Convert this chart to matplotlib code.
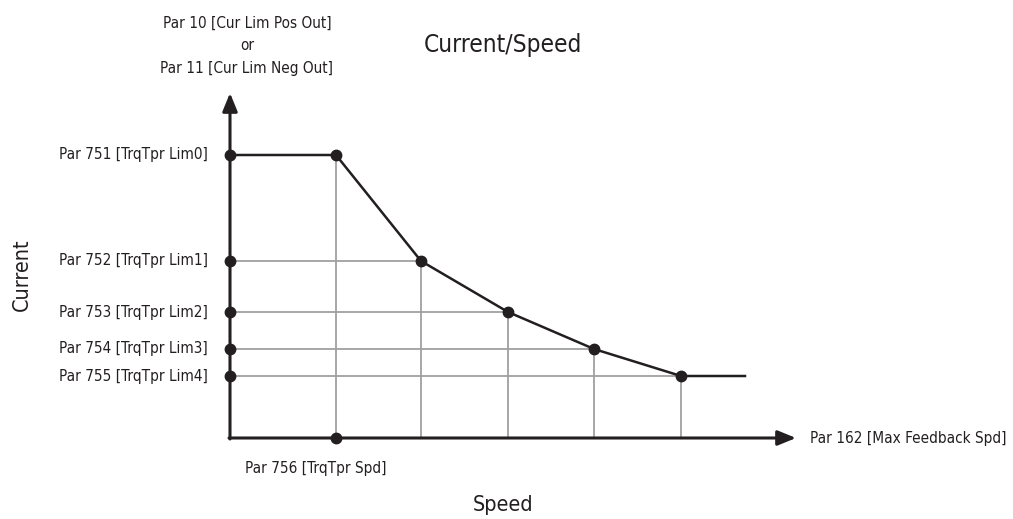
import matplotlib.pyplot as plt

plt.rcParams['font.family'] = ['DejaVu Sans']
plt.rcParams['font.stretch'] = 'condensed'

# data (arbitrary units, origin at axis crossing)
speed = [106, 191, 278, 364, 451]
current = [283, 177, 126, 89, 62]
speed_end = 515
y_labels = ['Par 751 [TrqTpr Lim0]', 'Par 752 [TrqTpr Lim1]', 'Par 753 [TrqTpr Lim2]',
            'Par 754 [TrqTpr Lim3]', 'Par 755 [TrqTpr Lim4]']
x_label_pt = 'Par 756 [TrqTpr Spd]'
x_axis_end = 'Par 162 [Max Feedback Spd]'
y_axis_top = 'Par 10 [Cur Lim Pos Out]\nor\nPar 11 [Cur Lim Neg Out]'

fig = plt.figure(figsize=(10.13, 5.19), dpi=100)
ax = fig.add_axes([0, 0, 1, 1])
ax.set_xlim(-230, 783)
ax.set_ylim(-81, 438)
ax.axis('off')

grey = '#a0a0a0'
dark = '#231f20'

# grid guides
for s, c in zip(speed, current):
    ax.plot([s, s], [0, c], color=grey, lw=1.3, zorder=1)
for s, c in zip(speed[1:], current[1:]):
    ax.plot([0, s], [c, c], color=grey, lw=1.3, zorder=1)

# curve
xs = [0] + speed + [speed_end]
ys = [current[0]] + current + [current[-1]]
ax.plot(xs, ys, color=dark, lw=1.8, zorder=2)
ax.plot(speed, current, 'o', color=dark, ms=7.5, zorder=4)
ax.plot([0] * len(current), current, 'o', color=dark, ms=7.5, zorder=4)
ax.plot([speed[0]], [0], 'o', color=dark, ms=7.5, zorder=4)

# axes with arrows
ax.annotate('', xy=(0, 345), xytext=(0, -1),
            arrowprops=dict(arrowstyle='-|>,head_length=1.1,head_width=0.45',
                            color=dark, lw=2.2, shrinkA=0, shrinkB=0), zorder=3)
ax.annotate('', xy=(566, 0), xytext=(-1, 0),
            arrowprops=dict(arrowstyle='-|>,head_length=1.1,head_width=0.45',
                            color=dark, lw=2.2, shrinkA=0, shrinkB=0), zorder=3)

# labels
fs = 11
for c, lab in zip(current, y_labels):
    ax.text(-22, c, lab, ha='right', va='center', fontsize=fs, color=dark)
ax.text(speed[0] - 20, -31, x_label_pt, ha='center', va='center', fontsize=fs, color=dark)
ax.text(580, 0, x_axis_end, ha='left', va='center', fontsize=fs, color=dark)
ax.text(17, 392, y_axis_top, ha='center', va='center', fontsize=fs, color=dark,
        linespacing=1.65)

ax.text(273, 393, 'Current/Speed', ha='center', va='center', fontsize=17.5, color=dark)
ax.text(-208, 163, 'Current', ha='center', va='center', rotation=90, fontsize=15.5, color=dark)
ax.text(273, -67, 'Speed', ha='center', va='center', fontsize=15.5, color=dark)

fig.savefig('out.png', dpi=100)
